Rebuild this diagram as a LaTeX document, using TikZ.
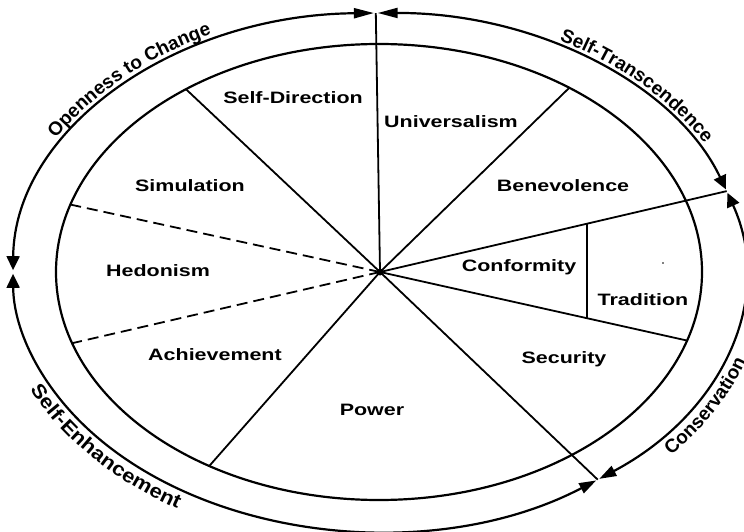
\documentclass[tikz,border=0pt]{standalone}
\usepackage{fontspec}
\newfontfamily\lab[FakeStretch=1.3]{Liberation Sans Bold}
\newfontfamily\arclab{Liberation Sans Bold}
\newfontfamily\arclabw[FakeStretch=1.13]{Liberation Sans Bold}
\usetikzlibrary{arrows.meta,decorations.text,calc}
\tikzset{
  tipH/.tip={Triangle[length=20pt,width=10pt]},
  tipV/.tip={Triangle[length=14pt,width=13pt]},
  tipD/.tip={Triangle[length=17pt,width=11pt]},
}
\begin{document}
\begin{tikzpicture}[x=1pt,y=1pt,
  ring/.style={line width=2.2pt},
  ray/.style={line width=1.8pt},
  dray/.style={ray, dash pattern=on 11pt off 6pt},
  lbl/.style={font=\lab\fontsize{16.5}{18}\selectfont, inner sep=0pt},
  curvetext/.style={decorate, decoration={text along path, text align=left, text={#1}}}
]
\useasboundingbox (0,0) rectangle (744,531);
\coordinate (E) at (379,259);
\coordinate (O) at (380,259);

% inner ellipse
\draw[ring] (E) ellipse [x radius=323pt, y radius=228pt];

% points on the outer ellipse
\coordinate (Ptop) at ($(E)+(90.5:366pt and 259pt)$);
\coordinate (Pright) at ($(E)+(18.2:366pt and 259pt)$);
\coordinate (Pbot) at ($(E)+(-53.3:366pt and 259pt)$);

% outer arcs with arrows
\draw[ring, {tipH}-{tipV}] ($(E)+(90.8:366pt and 259pt)$) arc[start angle=90.8, end angle=179.6, x radius=366pt, y radius=259pt];
\draw[ring, {tipH}-{tipV}] ($(E)+(90.2:366pt and 259pt)$) arc[start angle=90.2, end angle=18.6, x radius=366pt, y radius=259pt];
\draw[ring, {tipV}-{tipD}] ($(E)+(17.8:366pt and 259pt)$) arc[start angle=17.8, end angle=-53.0, x radius=366pt, y radius=259pt];
\draw[ring, {tipD}-{tipV}] ($(E)+(-53.6:366pt and 259pt)$) arc[start angle=-53.6, end angle=-179.6, x radius=366pt, y radius=259pt];

% rays
\coordinate (R2) at ($(E)+(126.7:323pt and 228pt)$);
\coordinate (R3) at ($(E)+(162.8:323pt and 228pt)$);
\coordinate (R4) at ($(E)+(198.2:323pt and 228pt)$);
\coordinate (R5) at ($(E)+(238.3:323pt and 228pt)$);
\coordinate (R7) at ($(E)+(-17.5:323pt and 228pt)$);
\coordinate (R9) at ($(E)+(53.9:323pt and 228pt)$);
\draw[ray] (O) -- (Ptop);
\draw[ray] (O) -- (R2);
\draw[dray] (O) -- (R3);
\draw[dray] (O) -- (R4);
\draw[ray] (O) -- (R5);
\draw[ray] (O) -- (Pbot);
\draw[ray] (O) -- (R7);
\draw[ray] (O) -- (Pright);
\draw[ray] (O) -- (R9);
\coordinate (V1) at (587,0);
\coordinate (V2) at (587,531);
\coordinate (Ta) at (intersection of O--Pright and V1--V2);
\coordinate (Tb) at (intersection of O--R7 and V1--V2);
\draw[ray] (Ta) -- (Tb);
\fill (O) circle (3.5pt);
\fill (663,268) circle (0.9pt);

% segment labels
\node[lbl] (sd) at (293,433) {Self-Direction};
\node[lbl] (un) at (451,409) {Universalism};
\node[lbl] (si) at (190,345) {Simulation};
\node[lbl] (be) at (563,345) {Benevolence};
\node[lbl] (he) at (158,260) {Hedonism};
\node[lbl] (co) at (519,264) {Conformity};
\node[lbl] (tr) at (643,231) {Tradition};
\node[lbl] (ac) at (215,176) {Achievement};
\node[lbl] (se) at (564,172) {Security};
\node[lbl] (po) at (372,121) {Power};

% curved labels
\path[curvetext={|\arclab\fontsize{19}{19}\selectfont|Openness to Change}]
  ($(E)+(150:373pt and 266pt)$) arc[start angle=150, end angle=95, x radius=373pt, y radius=266pt];
\path[curvetext={|\arclab\fontsize{19}{19}\selectfont|Self-Transcendence}]
  ($(E)+(61:372pt and 265pt)$) arc[start angle=61, end angle=-5, x radius=372pt, y radius=265pt];
\path[curvetext={|\arclab\fontsize{19}{19}\selectfont|Conservation}]
  ($(E)+(-41:387pt and 280pt)$) arc[start angle=-41, end angle=10, x radius=387pt, y radius=280pt];
\path[curvetext={|\arclabw\fontsize{19.5}{19.5}\selectfont|Self-Enhancement}]
  ($(E)+(205:385pt and 278pt)$) arc[start angle=205, end angle=275, x radius=385pt, y radius=278pt];
\end{tikzpicture}
\end{document}
